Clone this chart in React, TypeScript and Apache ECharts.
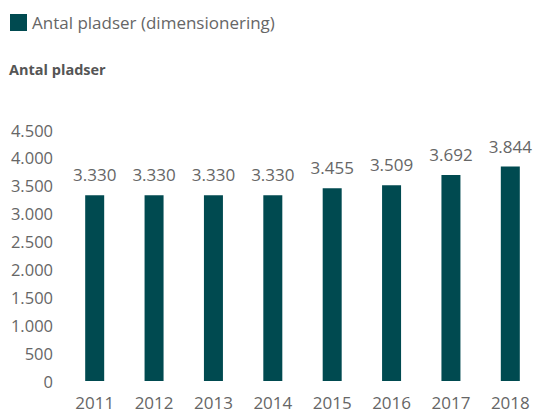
import React, { useEffect, useRef } from "react";
import * as echarts from "echarts";

const categories = ["2011", "2012", "2013", "2014", "2015", "2016", "2017", "2018"];
const pladser = [3330, 3330, 3330, 3330, 3455, 3509, 3692, 3844];
const seriesName = "Antal pladser (dimensionering)";
const axisTitle = "Antal pladser";

const fmt = (v: number) => String(v).replace(/\B(?=(\d{3})+(?!\d))/g, ".");

export default function App() {
  const ref = useRef<HTMLDivElement>(null);
  useEffect(() => {
    document.body.style.margin = "0";
    const chart = echarts.init(ref.current!, undefined, { renderer: "svg" });
    const font = "'Open Sans', sans-serif";
    chart.setOption({
      animation: false,
      textStyle: { fontFamily: font },
      legend: {
        left: 5,
        top: 9,
        itemWidth: 17,
        itemHeight: 17,
        itemGap: 6,
        icon: "rect",
        textStyle: { fontSize: 17, color: "#666", fontFamily: font },
        data: [seriesName],
      },
      graphic: [
        {
          type: "text",
          left: 9,
          top: 62,
          style: { text: axisTitle, fontSize: 14.5, fontWeight: "bold", fill: "#555", fontFamily: font },
        },
      ],
      grid: { left: 65, right: -7, top: 130, bottom: 31, containLabel: false },
      xAxis: {
        type: "category",
        data: categories,
        axisLine: { show: false },
        axisTick: { show: false },
        axisLabel: { fontSize: 17, lineHeight: 16, color: "#666", margin: 13, fontFamily: font },
      },
      yAxis: {
        type: "value",
        min: 0,
        max: 4500,
        interval: 500,
        splitLine: { show: false },
        axisLine: { show: false },
        axisTick: { show: false },
        axisLabel: { fontSize: 16.5, color: "#666", margin: 12, fontFamily: font, formatter: (v: number) => fmt(v) },
      },
      series: [
        {
          name: seriesName,
          type: "bar",
          data: pladser,
          barWidth: 19,
          itemStyle: { color: "#004A50" },
          label: {
            show: true,
            position: "top",
            distance: 12,
            fontSize: 17,
            color: "#666",
            fontFamily: font,
            formatter: (p: any) => fmt(p.value),
          },
        },
      ],
    });
    return () => chart.dispose();
  }, []);
  return <div ref={ref} style={{ position: "absolute", left: 0, top: 0, width: 540, height: 412 }} />;
}
